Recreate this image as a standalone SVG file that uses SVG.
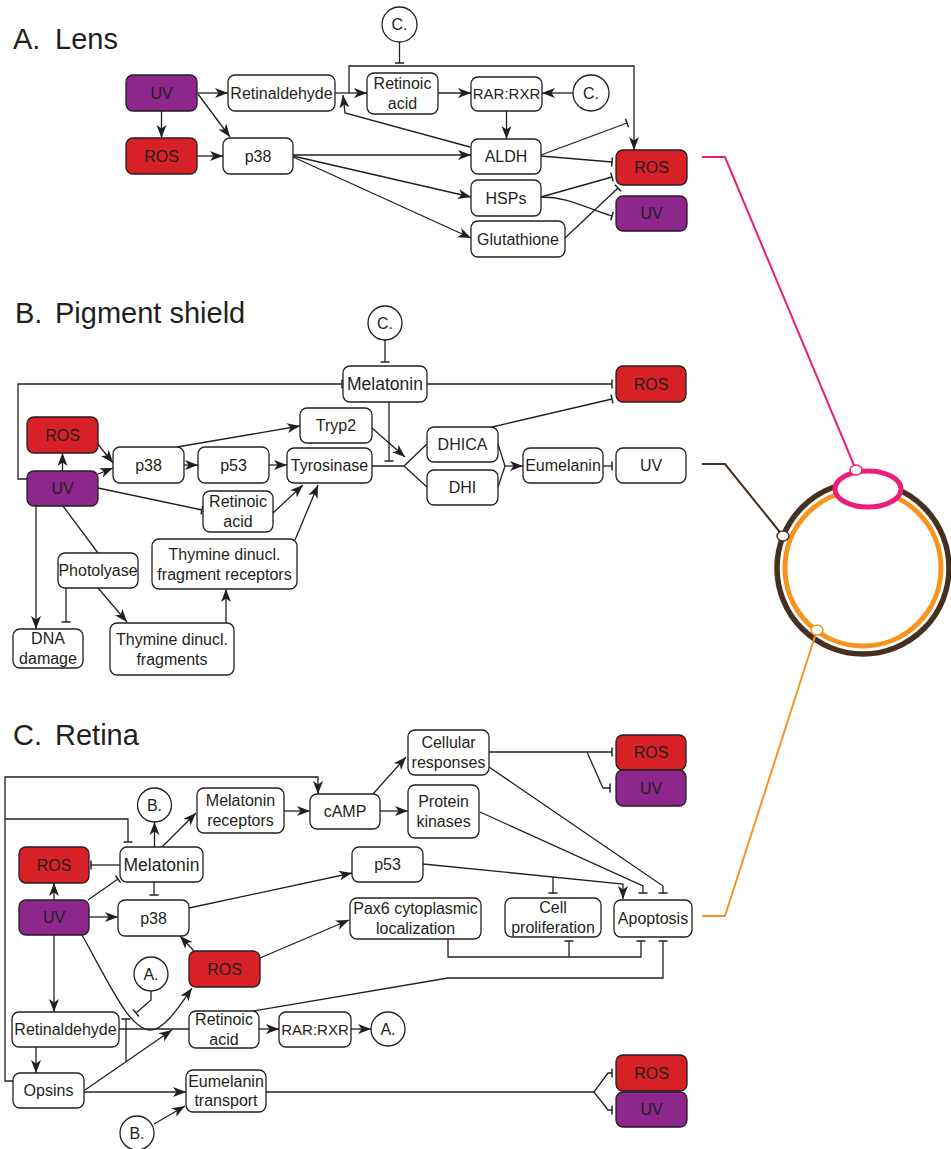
<svg xmlns="http://www.w3.org/2000/svg" width="951" height="1149" viewBox="0 0 951 1149">
<defs>
<style>
.n{fill:#fff;stroke:#231f20;stroke-width:1.3}
.r{fill:#d82027;stroke:#231f20;stroke-width:1.3}
.p{fill:#8e278c;stroke:#231f20;stroke-width:1.3}
text{font-family:"Liberation Sans",Arial,sans-serif;font-size:16px;fill:#231f20;text-anchor:middle}
.h{font-size:29px;text-anchor:start}
.m{font-size:17.5px}
.s{font-size:15px}
.c path{fill:none;stroke:#231f20;stroke-width:1.3}
.a{marker-end:url(#arr)}
.b{marker-end:url(#bar)}
.eye{fill:none}
</style>
<marker id="arr" markerWidth="15" markerHeight="12" refX="13" refY="6" orient="auto" markerUnits="userSpaceOnUse"><path d="M0,1 L13,6 L0,11 L3.5,6 z" fill="#231f20"/></marker>
<marker id="bar" markerWidth="4" markerHeight="12" refX="2" refY="6" orient="auto" markerUnits="userSpaceOnUse"><path d="M2,1.5 V10.5" stroke="#231f20" stroke-width="1.5" fill="none"/></marker>
</defs>
<rect width="951" height="1149" fill="#fff"/>

<g id="titles">
<text class="h" x="13" y="49">A.</text><text class="h" x="55" y="49">Lens</text>
<text class="h" x="15" y="323">B.</text><text class="h" x="55" y="323">Pigment shield</text>
<text class="h" x="13" y="745">C.</text><text class="h" x="55" y="745">Retina</text>
</g>

<g id="connectors" class="c">
<!-- A -->
<path class="a" d="M197,93 H228"/>
<path class="a" d="M198,94 L230,137"/>
<path class="a" d="M161.5,111 V138"/>
<path class="a" d="M197,156 H223"/>
<path class="a" d="M335,93 H367"/>
<path class="a" d="M349,93 V66 H634 V150"/>
<path class="b" d="M399.5,42 V63"/>
<path class="a" d="M438,93 H471"/>
<path class="a" d="M573,93 H542"/>
<path class="a" d="M506.5,111 V139"/>
<path class="a" d="M470,147 L345,113 L343,95"/>
<path class="a" d="M293,155 H471"/>
<path class="a" d="M293,156 L471,197"/>
<path class="a" d="M293,157 L471,238"/>
<path class="b" d="M541,155 L627,123"/>
<path class="b" d="M541,156 L612,162"/>
<path class="b" d="M541,197 L612,177"/>
<path class="b" d="M541,197 C570,197 585,208 612,216"/>
<path class="b" d="M565,238 L618,188"/>
<!-- B -->
<path class="b" d="M27,479 H18 V384 H342"/>
<path class="b" d="M385,340 V362"/>
<path class="b" d="M427,384 H612"/>
<path class="b" d="M389,402 V461"/>
<path class="b" d="M492,427 L612,399"/>
<path class="a" d="M62.5,471 V453"/>
<path class="a" d="M97,443 L113,463"/>
<path class="a" d="M98,474 L113,468"/>
<path class="a" d="M184,465 H198"/>
<path class="a" d="M269,465 H287"/>
<path class="a" d="M177,447 L300,426"/>
<path class="a" d="M372,428 L405,457"/>
<path d="M372,466 H404 L427,444 M404,466 L427,487"/>
<path d="M498,444 L505,466 L498,487"/>
<path class="a" d="M505,466 H523"/>
<path class="b" d="M603,466 H612"/>
<path class="b" d="M98,488 L202,510"/>
<path class="a" d="M273,513 L303,485"/>
<path class="a" d="M295,540 L318,485"/>
<path d="M63,506 L98,553"/>
<path class="a" d="M98,588 L127,622"/>
<path class="a" d="M36,506 V629"/>
<path class="b" d="M66,588 V622"/>
<path class="a" d="M226,623 V589"/>
<!-- C -->
<path class="a" d="M13,1081 H5 V777 H318 V794"/>
<path class="b" d="M5,819 H128 V842"/>
<path class="a" d="M154.5,847 V822"/>
<path class="a" d="M162,847 L196,813"/>
<path class="a" d="M284,811 H310"/>
<path class="a" d="M373,794 L406,757"/>
<path class="a" d="M380,811 H408"/>
<path class="b" d="M489,752 H612"/>
<path class="b" d="M587,752 L603,788 H610"/>
<path class="b" d="M489,767 L663,886 V893"/>
<path class="b" d="M480,812 L643,886 V893"/>
<path class="a" d="M423,864 L623,884 V899"/>
<path class="b" d="M553,877 V893"/>
<path class="b" d="M120,865 H91"/>
<path class="a" d="M54,900 V883"/>
<path class="b" d="M88,900 L118,879"/>
<path class="b" d="M154,882 V895"/>
<path class="a" d="M89,917 H118"/>
<path class="a" d="M189,908 L352,873"/>
<path class="a" d="M194,951 L180,936"/>
<path class="a" d="M260,958 L349,920"/>
<path class="a" d="M82,935 C110,985 130,1030 150,1030 C165,1030 180,1005 192,988"/>
<path class="b" d="M151,991 V1000 L136,1013"/>
<path class="b" d="M126,1061 V1019"/>
<path class="a" d="M54,935 V1012"/>
<path class="a" d="M36,1047 V1073"/>
<path d="M119,1029 H189"/>
<path class="a" d="M85,1090 L172,1030"/>
<path class="a" d="M259,1029 H279"/>
<path class="a" d="M351,1029 H371"/>
<path class="a" d="M84,1092 H186"/>
<path class="a" d="M154,1124 L185,1106"/>
<path class="b" d="M266,1092 H594 L608,1073 H612"/>
<path class="b" d="M594,1092 L608,1110 H612"/>
<path class="b" d="M253,1011 L448,978 H663 V941"/>
<path class="b" d="M448,939 V957 H641 V941"/>
<path class="b" d="M569,957 V941"/>
</g>

<g id="eye">
<circle class="eye" cx="863" cy="568" r="86" stroke="#47301f" stroke-width="5.5"/>
<circle class="eye" cx="863" cy="568" r="78" stroke="#f7931e" stroke-width="5"/>
<ellipse cx="868" cy="489" rx="33" ry="18" fill="#fff" stroke="#ec1e79" stroke-width="5"/>
<path d="M702,157 H725 L856,470" fill="none" stroke="#ec1e79" stroke-width="2"/>
<path d="M702,464 H725 L783,536" fill="none" stroke="#47301f" stroke-width="2"/>
<path d="M702,916 H725 L817,630" fill="none" stroke="#f7931e" stroke-width="2"/>
<ellipse cx="856" cy="470" rx="6" ry="5" fill="#fff" stroke="#ec1e79" stroke-width="1.5"/>
<ellipse cx="783" cy="536" rx="6" ry="5" fill="#fff" stroke="#47301f" stroke-width="1.5"/>
<ellipse cx="817" cy="630" rx="6" ry="5" fill="#fff" stroke="#f7931e" stroke-width="1.5"/>
</g>

<!-- Section A nodes -->
<g id="a-uv"><rect class="p" x="126" y="75" width="71" height="36" rx="7"/><text x="161.5" y="98.7">UV</text></g>
<g id="a-ros"><rect class="r" x="126" y="138" width="71" height="36" rx="7"/><text x="161.5" y="161.7">ROS</text></g>
<g id="a-retinaldehyde"><rect class="n" x="228" y="75" width="107" height="36" rx="7"/><text x="281.5" y="98.7">Retinaldehyde</text></g>
<g id="a-p38"><rect class="n" x="223" y="138" width="70" height="36" rx="7"/><text x="258" y="161.7">p38</text></g>
<g id="a-ra"><rect class="n" x="367" y="73" width="71" height="41" rx="7"/><text x="402.5" y="89">Retinoic</text><text x="402.5" y="109">acid</text></g>
<g id="a-rarrxr"><rect class="n" x="471" y="77" width="71" height="34" rx="7"/><text class="s" x="506.5" y="99.4">RAR:RXR</text></g>
<g id="a-c1"><circle class="n" cx="399.5" cy="24.5" r="17.5"/><text x="399.5" y="30.2">C.</text></g>
<g id="a-c2"><circle class="n" cx="591" cy="93" r="18"/><text x="591" y="98.7">C.</text></g>
<g id="a-aldh"><rect class="n" x="471" y="139" width="70" height="35" rx="7"/><text x="506" y="162.2">ALDH</text></g>
<g id="a-hsps"><rect class="n" x="471" y="180" width="70" height="36" rx="7"/><text x="506" y="203.7">HSPs</text></g>
<g id="a-glut"><rect class="n" x="471" y="221" width="94" height="36" rx="7"/><text x="518" y="244.7">Glutathione</text></g>
<g id="a-ros2"><rect class="r" x="616" y="150" width="71" height="35" rx="7"/><text x="651.5" y="173.2">ROS</text></g>
<g id="a-uv2"><rect class="p" x="616" y="196" width="71" height="35" rx="7"/><text x="651.5" y="219.2">UV</text></g>

<!-- Section B nodes -->
<g id="b-melatonin"><rect class="n" x="343" y="366" width="84" height="36" rx="7"/><text class="m" x="385" y="390.2">Melatonin</text></g>
<g id="b-c"><circle class="n" cx="385" cy="323" r="17"/><text x="385" y="328.7">C.</text></g>
<g id="b-ros-r"><rect class="r" x="616" y="366" width="70" height="36" rx="7"/><text x="651" y="389.7">ROS</text></g>
<g id="b-ros"><rect class="r" x="27" y="417" width="71" height="36" rx="7"/><text x="62.5" y="440.7">ROS</text></g>
<g id="b-tryp2"><rect class="n" x="300" y="408" width="72" height="35" rx="7"/><text x="336" y="431.2">Tryp2</text></g>
<g id="b-dhica"><rect class="n" x="427" y="427" width="71" height="35" rx="7"/><text x="462.5" y="450.2">DHICA</text></g>
<g id="b-p38"><rect class="n" x="113" y="447" width="71" height="36" rx="7"/><text x="148.5" y="470.7">p38</text></g>
<g id="b-p53"><rect class="n" x="198" y="447" width="71" height="36" rx="7"/><text x="233.5" y="470.7">p53</text></g>
<g id="b-tyrosinase"><rect class="n" x="287" y="448" width="85" height="35" rx="7"/><text x="329.5" y="471.2">Tyrosinase</text></g>
<g id="b-eumelanin"><rect class="n" x="523" y="448" width="80" height="35" rx="7"/><text x="563" y="471.2">Eumelanin</text></g>
<g id="b-uv-r"><rect class="n" x="616" y="448" width="70" height="35" rx="7"/><text x="651" y="471.2">UV</text></g>
<g id="b-uv"><rect class="p" x="27" y="471" width="71" height="35" rx="7"/><text x="62.5" y="494.2">UV</text></g>
<g id="b-dhi"><rect class="n" x="427" y="470" width="71" height="35" rx="7"/><text x="462.5" y="493.2">DHI</text></g>
<g id="b-ra"><rect class="n" x="203" y="491" width="70" height="41" rx="7"/><text x="238" y="507">Retinoic</text><text x="238" y="527">acid</text></g>
<g id="b-receptors"><rect class="n" x="152" y="539" width="145" height="50" rx="7"/><text x="224.5" y="559.5">Thymine dinucl.</text><text x="224.5" y="579.5">fragment receptors</text></g>
<g id="b-photolyase"><rect class="n" x="58" y="553" width="80" height="35" rx="7"/><text x="98" y="576.2">Photolyase</text></g>
<g id="b-dna"><rect class="n" x="13" y="629" width="70" height="39" rx="7"/><text x="48" y="644">DNA</text><text x="48" y="664">damage</text></g>
<g id="b-fragments"><rect class="n" x="110" y="623" width="124" height="52" rx="7"/><text x="172" y="644.5">Thymine dinucl.</text><text x="172" y="664.5">fragments</text></g>

<!-- Section C nodes -->
<g id="c-cellresp"><rect class="n" x="408" y="730" width="81" height="45" rx="7"/><text x="448.5" y="748">Cellular</text><text x="448.5" y="768">responses</text></g>
<g id="c-ros-tr"><rect class="r" x="616" y="735" width="70" height="35" rx="7"/><text x="651" y="758.2">ROS</text></g>
<g id="c-uv-tr"><rect class="p" x="616" y="770" width="70" height="36" rx="7"/><text x="651" y="793.7">UV</text></g>
<g id="c-melrec"><rect class="n" x="197" y="788" width="87" height="45" rx="7"/><text x="240.5" y="806">Melatonin</text><text x="240.5" y="826">receptors</text></g>
<g id="c-camp"><rect class="n" x="310" y="794" width="70" height="35" rx="7"/><text x="345" y="817.2">cAMP</text></g>
<g id="c-pk"><rect class="n" x="408" y="785" width="71" height="53" rx="7"/><text x="443.5" y="807">Protein</text><text x="443.5" y="827">kinases</text></g>
<g id="c-b"><circle class="n" cx="154.5" cy="805" r="17"/><text x="154.5" y="810.7">B.</text></g>
<g id="c-ros-l"><rect class="r" x="19" y="847" width="70" height="36" rx="7"/><text x="54" y="870.7">ROS</text></g>
<g id="c-melatonin"><rect class="n" x="120" y="847" width="83" height="35" rx="7"/><text class="m" x="161.5" y="870.7">Melatonin</text></g>
<g id="c-p53"><rect class="n" x="352" y="847" width="71" height="35" rx="7"/><text x="387.5" y="870.2">p53</text></g>
<g id="c-uv"><rect class="p" x="19" y="900" width="70" height="35" rx="7"/><text x="54" y="923.2">UV</text></g>
<g id="c-p38"><rect class="n" x="118" y="900" width="71" height="36" rx="7"/><text x="153.5" y="923.7">p38</text></g>
<g id="c-pax6"><rect class="n" x="350" y="898" width="131" height="41" rx="7"/><text x="415.5" y="914">Pax6 cytoplasmic</text><text x="415.5" y="934">localization</text></g>
<g id="c-cellprol"><rect class="n" x="505" y="898" width="96" height="39" rx="7"/><text x="553" y="913">Cell</text><text x="553" y="933">proliferation</text></g>
<g id="c-apoptosis"><rect class="n" x="614" y="900" width="78" height="37" rx="7"/><text x="653" y="924.2">Apoptosis</text></g>
<g id="c-ros-m"><rect class="r" x="189" y="951" width="71" height="36" rx="7"/><text x="224.5" y="974.7">ROS</text></g>
<g id="c-a"><circle class="n" cx="151" cy="974" r="17"/><text x="151" y="979.7">A.</text></g>
<g id="c-retinaldehyde"><rect class="n" x="12" y="1012" width="107" height="35" rx="7"/><text x="65.5" y="1035.2">Retinaldehyde</text></g>
<g id="c-ra"><rect class="n" x="189" y="1011" width="70" height="37" rx="7"/><text x="224" y="1025">Retinoic</text><text x="224" y="1045">acid</text></g>
<g id="c-rarrxr"><rect class="n" x="279" y="1012" width="72" height="35" rx="7"/><text class="s" x="315" y="1034.9">RAR:RXR</text></g>
<g id="c-a2"><circle class="n" cx="388" cy="1029" r="17"/><text x="388" y="1034.7">A.</text></g>
<g id="c-opsins"><rect class="n" x="13" y="1073" width="71" height="35" rx="7"/><text x="48.5" y="1096.2">Opsins</text></g>
<g id="c-eumtrans"><rect class="n" x="186" y="1070" width="80" height="42" rx="7"/><text x="226" y="1087">Eumelanin</text><text x="226" y="1106">transport</text></g>
<g id="c-b2"><circle class="n" cx="137" cy="1133" r="17"/><text x="137" y="1138.7">B.</text></g>
<g id="c-ros-b"><rect class="r" x="616" y="1055" width="71" height="36" rx="7"/><text x="651.5" y="1078.7">ROS</text></g>
<g id="c-uv-b"><rect class="p" x="616" y="1092" width="71" height="35" rx="7"/><text x="651.5" y="1115.2">UV</text></g>
</svg>
